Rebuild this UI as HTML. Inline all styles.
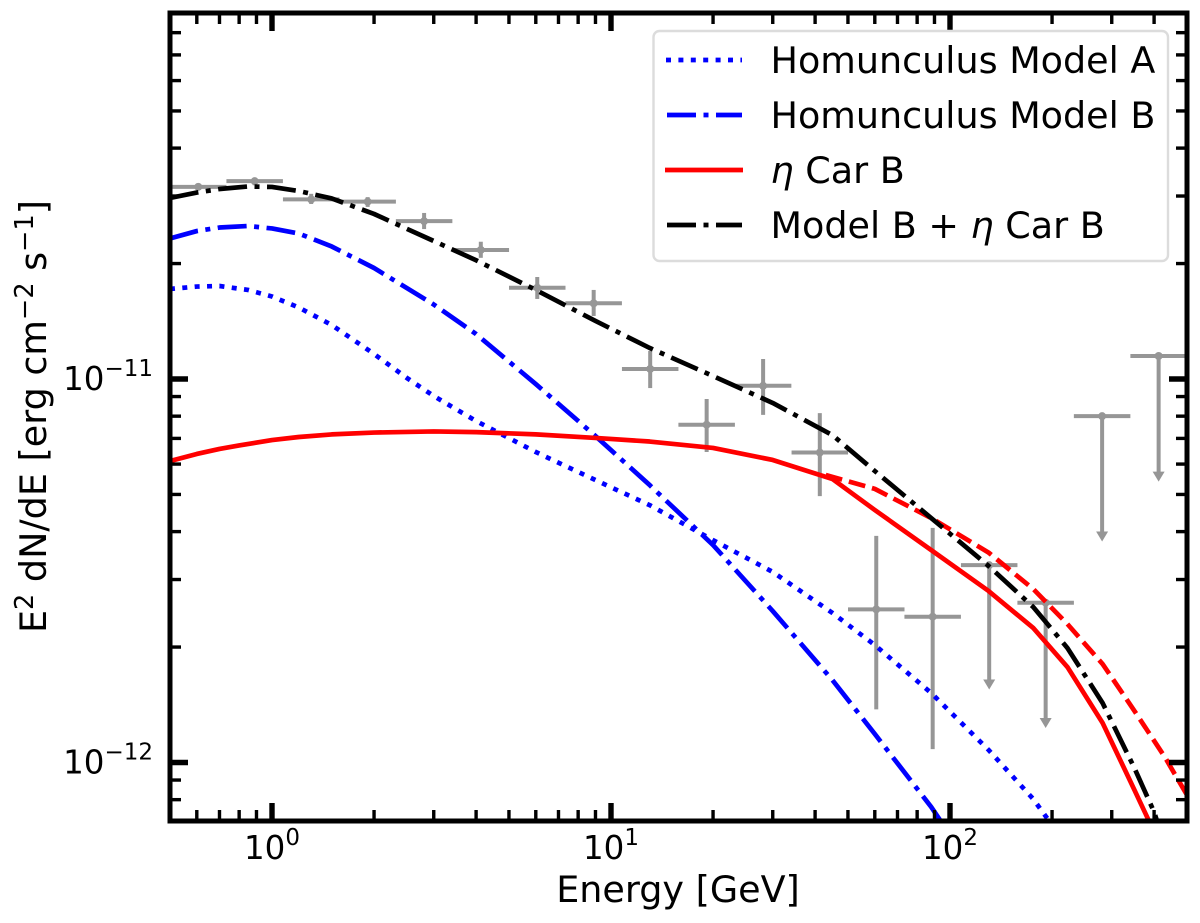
<!DOCTYPE html>
<html lang="en">
<head>
<meta charset="utf-8">
<title>Homunculus and eta Car spectral energy distribution</title>
<style>
  html, body { margin: 0; padding: 0; background: #ffffff; }
  svg { display: block; font-family: "DejaVu Sans", "Liberation Sans", sans-serif; }
  text { fill: #000000; }
</style>
</head>
<body>
<svg id="chart" xmlns="http://www.w3.org/2000/svg" width="1200" height="923" viewBox="0 0 1200 923">
  <defs>
    <clipPath id="plot-clip"><rect x="170" y="13" width="1017" height="808"></rect></clipPath>
  </defs>
  <rect x="0" y="0" width="1200" height="923" fill="#ffffff"></rect>
  <g id="data-layer" clip-path="url(#plot-clip)"></g>
  <g id="axis-layer"></g>

  <text x="678" y="902" font-size="36.5" text-anchor="middle">Energy [GeV]</text>
  <text transform="translate(46,633) rotate(-90)" font-size="36.5">E<tspan font-size="25.5" dy="-13">2</tspan><tspan dy="13"> dN/dE [erg cm</tspan><tspan font-size="25.5" dy="-13">−2</tspan><tspan dy="13"> s</tspan><tspan font-size="25.5" dy="-13">−1</tspan><tspan dy="13">]</tspan></text>

  <g>
    <rect x="653.5" y="31" width="514.5" height="230" rx="6" ry="6" fill="#ffffff" fill-opacity="0.85" stroke="#dcdcdc" stroke-width="2.4"></rect>
    <line x1="666" y1="60" x2="742" y2="60" stroke="#0000ff" stroke-width="4.7" stroke-dasharray="5 7.4"></line>
    <text x="770.5" y="73" font-size="36.5">Homunculus Model A</text>
    <line x1="667" y1="115" x2="742" y2="115" stroke="#0000ff" stroke-width="4.7" stroke-dasharray="29 7.5 5 7.5"></line>
    <text x="770.5" y="128" font-size="36.5">Homunculus Model B</text>
    <line x1="665" y1="170" x2="743" y2="170" stroke="#ff0000" stroke-width="4.7"></line>
    <text x="770.5" y="183" font-size="36.5"><tspan font-style="italic">η</tspan> Car B</text>
    <line x1="667" y1="225" x2="742" y2="225" stroke="#000000" stroke-width="4.7" stroke-dasharray="29 7.5 5 7.5"></line>
    <text x="770.5" y="238" font-size="36.5">Model B + <tspan font-style="italic">η</tspan> Car B</text>
  </g>
</svg>

<script>
// Flux values are in units of 1e-11 erg cm^-2 s^-1; energies in GeV.
const pointEnergy = [0.606, 0.889, 1.305, 1.915, 2.81, 4.13, 6.06, 8.89, 13.05, 19.15, 28.1, 41.3, 60.6, 88.9];
const pointFlux = [3.17, 3.28, 2.94, 2.90, 2.58, 2.17, 1.73, 1.576, 1.062, 0.76, 0.96, 0.643, 0.2508, 0.24];
const pointFluxHigh = [3.235, 3.34, 3.04, 2.98, 2.71, 2.28, 1.845, 1.707, 1.183, 0.887, 1.128, 0.815, 0.390, 0.409];
const pointFluxLow = [3.11, 3.20, 2.86, 2.81, 2.46, 2.07, 1.617, 1.46, 0.947, 0.645, 0.806, 0.495, 0.1376, 0.1084];

const limitEnergy = [130.5, 191.5, 281, 412.5];
const limitFlux = [0.327, 0.261, 0.80, 1.148];
const limitArrowTip = [0.155, 0.123, 0.377, 0.54];

const modelAEnergy = [0.5, 0.6, 0.7, 0.85, 1, 1.2, 1.5, 2, 2.5, 3, 4, 6, 9, 13, 20, 30, 45, 60, 88, 130, 176, 200];
const modelAFlux = [1.717, 1.742, 1.748, 1.707, 1.641, 1.536, 1.383, 1.162, 1.006, 0.903, 0.777, 0.645, 0.545, 0.469, 0.380, 0.314, 0.2454, 0.2025, 0.1518, 0.1078, 0.0803, 0.0687];

const modelBEnergy = [0.5, 0.6, 0.7, 0.85, 1, 1.2, 1.5, 2, 3, 4, 6, 9, 13, 20, 30, 45, 60, 88, 100];
const modelBFlux = [2.325, 2.431, 2.483, 2.506, 2.469, 2.395, 2.216, 1.947, 1.564, 1.31, 0.970, 0.710, 0.529, 0.369, 0.2483, 0.164, 0.1187, 0.0766, 0.0647];

const etaCarEnergy = [0.5, 0.6, 0.7, 0.8, 1, 1.2, 1.5, 2, 3, 4, 6, 9, 13, 20, 30, 45, 60, 88, 130, 176, 222, 282, 350, 400];
const etaCarFlux = [0.611, 0.6375, 0.657, 0.671, 0.693, 0.706, 0.717, 0.725, 0.730, 0.727, 0.717, 0.702, 0.687, 0.661, 0.615, 0.5485, 0.4555, 0.358, 0.280, 0.2243, 0.1774, 0.1268, 0.0848, 0.0659];

const etaCarDashedEnergy = [43, 60, 88, 130, 176, 222, 282, 350, 430, 500];
const etaCarDashedFlux = [0.562, 0.517, 0.434, 0.3526, 0.2834, 0.2297, 0.1806, 0.1363, 0.1034, 0.0823];

const totalEnergy = [0.5, 0.6, 0.7, 0.85, 1, 1.2, 1.5, 2, 3, 4, 6, 9, 13, 20, 30, 45, 60, 88, 130, 176, 222, 282, 350, 400, 430];
const totalFlux = [2.965, 3.063, 3.129, 3.177, 3.168, 3.091, 2.957, 2.694, 2.290, 2.04, 1.707, 1.417, 1.205, 1.018, 0.866, 0.714, 0.5755, 0.434, 0.3254, 0.2544, 0.1989, 0.1429, 0.0967, 0.0743, 0.0609];

const xMajorTicks = [1, 10, 100];
const xMajorLabels = ["0", "1", "2"];
const xMinorTicks = [0.6, 0.7, 0.8, 0.9, 2, 3, 4, 5, 6, 7, 8, 9, 20, 30, 40, 50, 60, 70, 80, 90, 200, 300, 400];
const yMajorTicks = [0.1, 1];
const yMajorLabels = ["−12", "−11"];
const yMinorTicks = [0.08, 0.09, 0.2, 0.3, 0.4, 0.5, 0.6, 0.7, 0.8, 0.9, 2, 3, 4, 5, 6, 7, 8];

const NS = "http://www.w3.org/2000/svg";
const PLOT = { left: 170, right: 1187, top: 13, bottom: 821 };
const GRAY = "#969696";
const BIN_FACTOR = Math.pow(10, 1 / 12);

function xScale(energy) { return 272 + 339 * Math.log10(energy); }
function yScale(flux) { return 379 - 383.5 * Math.log10(flux); }

function make(tag, attrs, parent) {
  const el = document.createElementNS(NS, tag);
  for (const key in attrs) el.setAttribute(key, attrs[key]);
  parent.appendChild(el);
  return el;
}

const dataLayer = document.getElementById("data-layer");
const axisLayer = document.getElementById("axis-layer");

function drawSegment(parent, x1, y1, x2, y2) {
  return make("line", { x1: x1, y1: y1, x2: x2, y2: y2, stroke: GRAY, "stroke-width": 4 }, parent);
}

// Measured points with error bars
pointEnergy.forEach(function (energy, i) {
  const g = make("g", {}, dataLayer);
  
  
  const cx = xScale(energy);
  const cy = yScale(pointFlux[i]);
  drawSegment(g, xScale(energy / BIN_FACTOR), cy, xScale(energy * BIN_FACTOR), cy);
  drawSegment(g, cx, yScale(pointFluxHigh[i]), cx, yScale(pointFluxLow[i]));
  make("circle", { cx: cx, cy: cy, r: 4, fill: GRAY }, g);
});

// Upper limits with arrows
limitEnergy.forEach(function (energy, i) {
  const g = make("g", {}, dataLayer);
  
  
  const cx = xScale(energy);
  const cy = yScale(limitFlux[i]);
  const tip = yScale(limitArrowTip[i]);
  drawSegment(g, xScale(energy / BIN_FACTOR), cy, xScale(energy * BIN_FACTOR), cy);
  drawSegment(g, cx, cy, cx, tip - 8);
  make("circle", { cx: cx, cy: cy, r: 4, fill: GRAY }, g);
  make("polygon", { points: (cx - 6) + "," + (tip - 10) + " " + (cx + 6) + "," + (tip - 10) + " " + cx + "," + tip, fill: GRAY }, g);
});

function linePath(energies, fluxes) {
  return energies.map(function (e, i) {
    return (i ? "L" : "M") + xScale(e).toFixed(2) + " " + yScale(fluxes[i]).toFixed(2);
  }).join(" ");
}

function drawCurve(energies, fluxes, color, dash) {
  const attrs = { d: linePath(energies, fluxes), fill: "none", stroke: color, "stroke-width": 4.7, "stroke-linejoin": "round" };
  if (dash) attrs["stroke-dasharray"] = dash;
  return make("path", attrs, dataLayer);
}

const curveModelA = drawCurve(modelAEnergy, modelAFlux, "#0000ff", "5 7.4");


const curveModelB = drawCurve(modelBEnergy, modelBFlux, "#0000ff", "29 7.5 5 7.5");


const curveEtaDashed = drawCurve(etaCarDashedEnergy, etaCarDashedFlux, "#ff0000", "17 7");


const curveEta = drawCurve(etaCarEnergy, etaCarFlux, "#ff0000", null);


const curveTotal = drawCurve(totalEnergy, totalFlux, "#000000", "29 7.5 5 7.5");



// Ticks on all four sides
function drawXTick(energy, length, width, name) {
  const x = xScale(energy);
  const bottom = make("line", { x1: x, y1: PLOT.bottom, x2: x, y2: PLOT.bottom - length, stroke: "#000", "stroke-width": width }, axisLayer);
  
  
  const top = make("line", { x1: x, y1: PLOT.top, x2: x, y2: PLOT.top + length, stroke: "#000", "stroke-width": width }, axisLayer);
  
  
}
function drawYTick(flux, length, width, name) {
  const y = yScale(flux);
  const left = make("line", { x1: PLOT.left, y1: y, x2: PLOT.left + length, y2: y, stroke: "#000", "stroke-width": width }, axisLayer);
  
  
  const right = make("line", { x1: PLOT.right, y1: y, x2: PLOT.right - length, y2: y, stroke: "#000", "stroke-width": width }, axisLayer);
  
  
}

xMinorTicks.forEach(function (e) { drawXTick(e, 11, 3.4, 'x-minor-tick'); });
xMajorTicks.forEach(function (e) { drawXTick(e, 18, 5.4, 'x-major-tick'); });
yMinorTicks.forEach(function (f) { drawYTick(f, 11, 3.4, 'y-minor-tick'); });
yMajorTicks.forEach(function (f) { drawYTick(f, 18, 5.4, 'y-major-tick'); });

function drawPowerLabel(x, y, anchor, exponent, name) {
  const t = make("text", { x: x, y: y, "font-size": 32.5, "text-anchor": anchor }, axisLayer);
  
  
  const base = document.createElementNS(NS, "tspan");
  base.textContent = "10";
  t.appendChild(base);
  const sup = document.createElementNS(NS, "tspan");
  sup.setAttribute("font-size", "23");
  sup.setAttribute("dy", "-14");
  sup.textContent = exponent;
  t.appendChild(sup);
}

xMajorTicks.forEach(function (e, i) {
  drawPowerLabel(xScale(e), 859, "middle", xMajorLabels[i], 'x-tick-label');
});
yMajorTicks.forEach(function (f, i) {
  drawPowerLabel(153, yScale(f) + 11, "end", yMajorLabels[i], 'y-tick-label');
});

const spines = make("rect", {
  x: PLOT.left, y: PLOT.top, width: PLOT.right - PLOT.left, height: PLOT.bottom - PLOT.top,
  fill: "none", stroke: "#000", "stroke-width": 5
}, axisLayer);


</script>
</body>
</html>
